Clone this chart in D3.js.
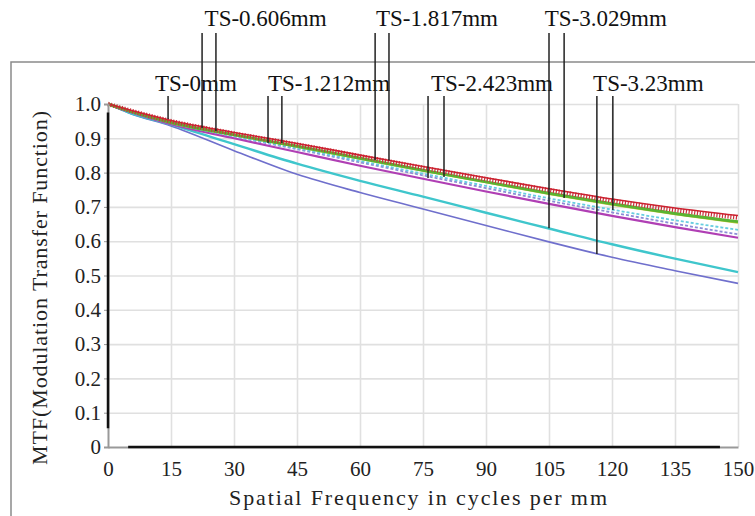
<html>
<head>
  <meta charset="utf8">
  <title>MTF</title>
  <style>
  * { margin: 0; padding: 0; }
  body { background: #fff; }
  </style>
</head>
<body>
  <script src="https://cdn.jsdelivr.net/npm/d3@7"></script>
  <script>
  var w = 755;
  var h = 516;
  var margin = {left: 108, right: 17, top: 104, bottom: 69};

  // pick an installed serif face (falls back to the default font)
  function pickFont(list) {
    var ctx = document.createElement("canvas").getContext("2d");
    var probe = "TS-0.606mm Spatial Frequency 0123456789";
    ctx.font = "40px monospace";
    var base = ctx.measureText(probe).width;
    for (var i = 0; i < list.length; i++) {
      ctx.font = "40px '" + list[i] + "', monospace";
      if (Math.abs(ctx.measureText(probe).width - base) > 0.5) return "'" + list[i] + "'";
    }
    return "serif";
  }
  var serif = pickFont(["Liberation Serif", "Times New Roman", "Tinos", "DejaVu Serif", "Noto Serif", "FreeSerif", "Times"]);

  // spatial frequency samples (cycles/mm)
  var freq = [0, 5, 15, 30, 45, 60, 75, 90, 105, 120, 135, 150];

  // MTF curves
  var redT      = [1.0, 0.983, 0.952, 0.917, 0.885, 0.851, 0.818, 0.785, 0.753, 0.723, 0.697, 0.675];
  var redS      = [1.0, 0.982, 0.950, 0.914, 0.882, 0.848, 0.814, 0.781, 0.749, 0.718, 0.691, 0.669];
  var greenT    = [1.0, 0.980, 0.946, 0.910, 0.877, 0.842, 0.807, 0.773, 0.740, 0.709, 0.681, 0.657];
  var yellowT   = [1.0, 0.980, 0.945, 0.909, 0.875, 0.840, 0.805, 0.771, 0.737, 0.706, 0.678, 0.653];
  var cyanS     = [1.0, 0.980, 0.945, 0.907, 0.871, 0.834, 0.797, 0.761, 0.725, 0.692, 0.661, 0.633];
  var violetS   = [1.0, 0.979, 0.944, 0.905, 0.868, 0.830, 0.792, 0.755, 0.718, 0.684, 0.651, 0.620];
  var magentaT  = [1.0, 0.978, 0.941, 0.900, 0.860, 0.820, 0.782, 0.745, 0.709, 0.674, 0.641, 0.610];
  var cyanT     = [1.0, 0.975, 0.940, 0.883, 0.826, 0.776, 0.730, 0.683, 0.637, 0.591, 0.549, 0.510];
  var blueT     = [1.0, 0.974, 0.936, 0.864, 0.795, 0.742, 0.694, 0.646, 0.598, 0.553, 0.514, 0.477];

  var xTicks = [0, 15, 30, 45, 60, 75, 90, 105, 120, 135, 150];
  var yTicks = [0, 0.1, 0.2, 0.3, 0.4, 0.5, 0.6, 0.7, 0.8, 0.9, 1.0];

  // field labels: text, row, label start freq, leader freqs, leader end MTF
  var fieldNames  = ["TS-0mm", "TS-0.606mm", "TS-1.212mm", "TS-1.817mm", "TS-2.423mm", "TS-3.029mm", "TS-3.23mm"];
  var fieldRow    = [2, 1, 2, 1, 2, 1, 2];
  var fieldLabelX = [11.2, 23.0, 38.1, 63.8, 76.9, 104.0, 115.5];
  var leaderX     = [[14.3], [22.4, 25.7], [38.1, 41.4], [63.6, 66.9], [76.2, 80.0], [105.0, 108.6], [116.4, 120.2]];
  var leaderEnd   = [[0.956], [0.93, 0.921], [0.886, 0.886], [0.837, 0.835], [0.784, 0.787], [0.638, 0.726], [0.563, 0.691]];

  var series = [
    {v: blueT, color: "#6f6fcc", width: 1.6},
    {v: cyanT, color: "#3fc6cc", width: 2.4},
    {v: magentaT, color: "#b03fb4", width: 2.2},
    {v: violetS, color: "#8c8cd6", width: 1.8, dash: "3,2"},
    {v: cyanS, color: "#66cde0", width: 1.8, dash: "3,2"},
    {v: yellowT, color: "#c9c93a", width: 1.6},
    {v: greenT, color: "#5ab432", width: 3},
    {v: redS, color: "#c8323c", width: 4.5, dash: "1.2,1.6"},
    {v: redT, color: "#cc2230", width: 1.6}
  ];

  var xScale = d3.scaleLinear().domain([0, 150]).range([margin.left, w - margin.right]);
  var yScale = d3.scaleLinear().domain([0, 1]).range([h - margin.bottom, margin.top]);

  var svg = d3.select("body").append("svg").attr("width", w).attr("height", h);

  // outer frame
  svg.append("rect")
    .attr("x", 11).attr("y", 62)
    .attr("width", w + 10).attr("height", h)
    .attr("fill", "none").attr("stroke", "#8a8a8a").attr("stroke-width", 1.5);

  // grid
  svg.append("g")
    .attr("transform", "translate(0," + yScale(0) + ")")
    .call(d3.axisBottom(xScale).tickValues(xTicks.slice(1)).tickSize(-(yScale(0) - yScale(1))).tickFormat(""))
    .call(function(g) { g.select(".domain").remove(); })
    .selectAll("line").attr("stroke", "#e0e0e0").attr("stroke-width", 1.6);
  svg.append("g")
    .attr("transform", "translate(" + xScale(0) + ",0)")
    .call(d3.axisLeft(yScale).tickValues(yTicks.slice(1)).tickSize(-(xScale(150) - xScale(0))).tickFormat(""))
    .call(function(g) { g.select(".domain").remove(); })
    .selectAll("line").attr("stroke", "#e0e0e0").attr("stroke-width", 1.6);

  // curves
  var line = d3.line()
    .x(function(d, i) { return xScale(freq[i]); })
    .y(function(d) { return yScale(d); })
    .curve(d3.curveMonotoneX);

  svg.selectAll("path.curve")
    .data(series)
    .enter()
    .append("path")
    .attr("class", "curve")
    .attr("d", function(d) { return line(d.v); })
    .attr("fill", "none")
    .attr("stroke", function(d) { return d.color; })
    .attr("stroke-width", function(d) { return d.width; })
    .attr("stroke-dasharray", function(d) { return d.dash || null; });

  // axes
  var yAxis = svg.append("g")
    .attr("transform", "translate(" + xScale(0) + ",0)")
    .call(d3.axisLeft(yScale).tickValues(yTicks).tickSize(4).tickPadding(3)
      .tickFormat(function(d) { return d === 0 ? "0" : d3.format(".1f")(d); }));
  yAxis.attr("font-family", serif).attr("font-size", 21);
  yAxis.select(".domain").attr("stroke", "#999").attr("stroke-width", 2);
  yAxis.selectAll("line").attr("stroke", "#999");
  yAxis.selectAll("text").attr("fill", "#222");

  var xAxis = svg.append("g")
    .attr("transform", "translate(0," + yScale(0) + ")")
    .call(d3.axisBottom(xScale).tickValues(xTicks).tickSize(0).tickPadding(14));
  xAxis.attr("font-family", serif).attr("font-size", 21);
  xAxis.select(".domain").attr("stroke", "#999").attr("stroke-width", 2);
  xAxis.selectAll("text").attr("fill", "#222");

  // black parts of the axis lines
  svg.append("line")
    .attr("x1", xScale(0)).attr("x2", xScale(0))
    .attr("y1", yScale(0.055)).attr("y2", yScale(0.975))
    .attr("stroke", "#111").attr("stroke-width", 2.5);
  svg.append("line")
    .attr("x1", xScale(4.8)).attr("x2", xScale(145.7))
    .attr("y1", yScale(0)).attr("y2", yScale(0))
    .attr("stroke", "#111").attr("stroke-width", 2.5);

  // axis titles
  svg.append("text")
    .attr("x", 418)
    .attr("y", 505)
    .attr("text-anchor", "middle")
    .attr("font-family", serif).attr("font-size", 22)
    .attr("textLength", 378).attr("lengthAdjust", "spacing")
    .attr("fill", "#222")
    .text("Spatial Frequency  in cycles per mm");
  svg.append("text")
    .attr("transform", "translate(47," + 288 + ") rotate(-90)")
    .attr("text-anchor", "middle")
    .attr("font-family", serif).attr("font-size", 22)
    .attr("textLength", 354).attr("lengthAdjust", "spacing")
    .attr("fill", "#222")
    .text("MTF(Modulation Transfer Function)");

  // field labels and leader lines
  var rowText = {1: 26, 2: 91};
  var rowLine = {1: 33, 2: 96};
  fieldNames.forEach(function(name, i) {
    svg.append("text")
      .attr("x", xScale(fieldLabelX[i]))
      .attr("y", rowText[fieldRow[i]])
      .attr("font-family", serif).attr("font-size", 23)
      .attr("fill", "#111")
      .text(name);
    leaderX[i].forEach(function(f, j) {
      svg.append("line")
        .attr("x1", xScale(f)).attr("x2", xScale(f))
        .attr("y1", rowLine[fieldRow[i]])
        .attr("y2", yScale(leaderEnd[i][j]))
        .attr("stroke", "#222").attr("stroke-width", 1.5);
    });
  });
  </script>
</body>
</html>
